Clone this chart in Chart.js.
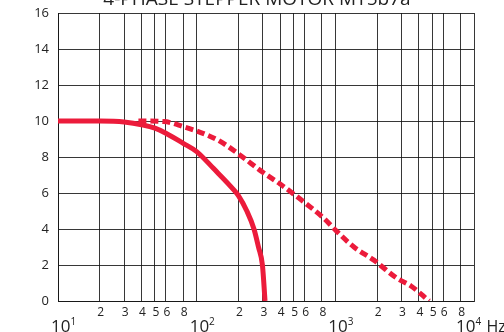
<!DOCTYPE html>
<html>
<head>
<meta charset="utf-8">
<script src="https://cdn.jsdelivr.net/npm/chart.js@4/dist/chart.umd.min.js"></script>
<style>
  html, body { margin: 0; padding: 0; background: #fff; }
  canvas { display: block; }
</style>
</head>
<body>
<canvas id="c" width="504" height="332"></canvas>
<script>
// ---- data ----
const titleText = "4-PHASE STEPPER MOTOR MY5b7a";
const freqSolid   = [10, 20, 30, 41, 50, 60, 80, 100, 132, 186, 200, 230, 259, 279, 298, 305, 311];
const torqueSolid = [10, 10, 9.95, 9.78, 9.6, 9.32, 8.76, 8.3, 7.37, 6.16, 5.85, 5.0, 4.0, 3.0, 2.0, 1.0, 0];
const freqDashed   = [38, 58, 80, 119, 149, 206, 300, 400, 476, 594, 828, 1033, 1362, 1897, 2800, 3490, 4750];
const torqueDashed = [10, 9.97, 9.69, 9.22, 8.85, 8.1, 7.15, 6.5, 6.07, 5.5, 4.59, 3.84, 3.0, 2.27, 1.25, 0.85, 0];
const yTicks = [0, 2, 4, 6, 8, 10, 12, 14, 16];
const xGridValues = [10, 20, 30, 40, 50, 60, 80, 100, 200, 300, 400, 500, 600, 800, 1000,
                     2000, 3000, 4000, 5000, 6000, 8000, 10000];
const xMinorLabels = ["2", "3", "4", "5", "6", "8"];
const xMinorMult = [2, 3, 4, 5, 6, 8];
const decades = [10, 100, 1000, 10000];
const decadeExp = ["1", "2", "3", "4"];
const unitLabel = "Hz";

const RED = "#ec1b3b";
const GRID = "rgba(20,20,20,0.85)";
const FONT = "'Open Sans', 'Noto Sans', sans-serif";

const labelPlugin = {
  id: "labels",
  afterDraw(chart) {
    const ctx = chart.ctx;
    const xs = chart.scales.x;
    ctx.save();
    ctx.fillStyle = "#222";
    // title (top cut off as in the reference)
    ctx.font = "19px " + FONT;
    ctx.textAlign = "center";
    ctx.textBaseline = "alphabetic";
    ctx.fillText(titleText, 257, 5);
    // minor labels
    ctx.font = "12px " + FONT;
    ctx.textBaseline = "middle";
    for (let d = 0; d < 3; d++) {
      xMinorMult.forEach((m, i) => {
        const px = xs.getPixelForValue(decades[d] * m);
        ctx.fillText(xMinorLabels[i], px + 1, 313);
      });
    }
    // decade labels
    ctx.textAlign = "left";
    ctx.textBaseline = "alphabetic";
    decades.forEach((v, i) => {
      const px = xs.getPixelForValue(v);
      const x0 = i === 3 ? px - 18 : px - 7;
      ctx.font = "17px " + FONT;
      ctx.fillText("10", x0, 332);
      const w = ctx.measureText("10").width;
      ctx.font = "10px " + FONT;
      ctx.fillText(decadeExp[i], x0 + w, 325);
      if (i === 3) {
        ctx.font = "16px " + FONT;
        ctx.fillText(unitLabel, x0 + w + 11, 332);
      }
    });
    ctx.restore();
  }
};

new Chart(document.getElementById("c"), {
  type: "line",
  data: {
    datasets: [
      {
        data: freqSolid.map((f, i) => ({ x: f, y: torqueSolid[i] })),
        borderColor: RED,
        borderWidth: 5,
        pointRadius: 0,
        cubicInterpolationMode: "monotone",
        fill: false
      },
      {
        data: freqDashed.map((f, i) => ({ x: f, y: torqueDashed[i] })),
        borderColor: RED,
        borderWidth: 5,
        borderDash: [8, 4],
        borderCapStyle: "butt",
        pointRadius: 0,
        cubicInterpolationMode: "monotone",
        fill: false
      }
    ]
  },
  options: {
    responsive: false,
    animation: false,
    devicePixelRatio: 1,
    layout: { padding: { top: 13, right: 30, bottom: 31, left: 0 } },
    plugins: { legend: { display: false }, tooltip: { enabled: false }, title: { display: false } },
    scales: {
      x: {
        type: "logarithmic",
        min: 10,
        max: 10000,
        afterBuildTicks: s => { s.ticks = xGridValues.map(v => ({ value: v })); },
        afterFit: s => { s.height = 0; s.paddingLeft = 0; s.paddingRight = 0; s.paddingTop = 0; s.paddingBottom = 0; },
        ticks: { display: false },
        grid: { color: GRID, lineWidth: 1, drawTicks: false },
        border: { display: true, color: GRID, width: 1 }
      },
      y: {
        min: 0,
        max: 16,
        afterBuildTicks: s => { s.ticks = yTicks.map(v => ({ value: v })); },
        afterFit: s => { s.width = 58; s.paddingTop = 0; s.paddingBottom = 0; s.paddingLeft = 0; s.paddingRight = 0; },
        ticks: { color: "#222", font: { family: FONT, size: 13 }, padding: 9 },
        grid: { color: GRID, lineWidth: 1, drawTicks: false },
        border: { display: true, color: GRID, width: 1 }
      }
    }
  },
  plugins: [labelPlugin]
});
</script>
</body>
</html>
